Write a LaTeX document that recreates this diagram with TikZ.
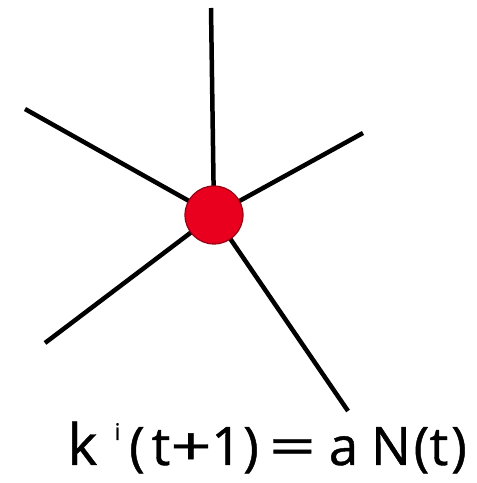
\documentclass[tikz,border=0pt]{standalone}
\usepackage{fontspec}
\setmainfont{Open Sans}
\newfontfamily\formfont[FakeBold=0.8]{Open Sans}
\definecolor{hubfill}{RGB}{232,0,30}
\definecolor{hubline}{RGB}{150,0,20}
\tikzset{
  spoke/.style={line width=4.5pt, black},
  hub/.style={circle, fill=hubfill, draw=hubline, line width=1.2pt, minimum size=58pt, inner sep=0pt},
  glyph/.style={anchor=base, inner sep=0pt, font=\formfont\fontsize{53}{60}\selectfont}
}
\begin{document}
\begin{tikzpicture}[x=1pt,y=1pt]
\useasboundingbox (0,0) rectangle (477,483);
\coordinate (ctr) at (214,268);
\coordinate (e1) at (211,475);
\coordinate (e2) at (25,374);
\coordinate (e3) at (363,350);
\coordinate (e4) at (45,140);
\coordinate (e5) at (348,72);
\foreach \e in {e1,e2,e3,e4,e5} \draw[spoke] (ctr) -- (\e);
\node[hub] (h) at (ctr) {};
% formula k^i(t+1) = a N(t)
\node[glyph, font=\formfont\fontsize{57}{64}\selectfont] (k) at (82.5,18) {k};
\node[glyph, font=\formfont\fontsize{23}{26}\selectfont] (i) at (117.5,43) {i};
\node[glyph] (p1) at (137,18) {(};
\node[glyph] (t1) at (161,18) {t};
\node[glyph] (plus) at (191,18) {\scalebox{1.35}[1]{+}};
\node[glyph] (one) at (226.5,18) {1};
\node[glyph] (p2) at (251,18) {)};
\node[glyph] (eq) at (292.5,18) {\scalebox{1.55}[1]{=}};
\node[glyph] (a) at (343.5,18) {a};
\node[glyph] (N) at (391,18) {N};
\node[glyph] (p3) at (421.5,18) {(};
\node[glyph] (t2) at (439,18) {t};
\node[glyph] (p4) at (459,18) {)};
\end{tikzpicture}
\end{document}
